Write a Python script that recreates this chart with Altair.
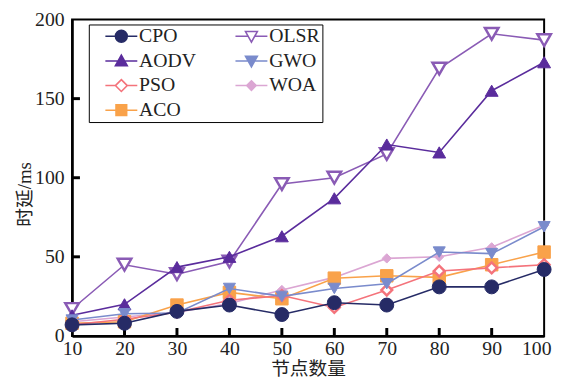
import altair as alt
import pandas as pd

nodes = [10, 20, 30, 40, 50, 60, 70, 80, 90, 100]
series_order = ["CPO", "AODV", "PSO", "ACO", "OLSR", "GWO", "WOA"]
draw_order = ["OLSR", "AODV", "WOA", "ACO", "PSO", "GWO", "CPO"]

values = {
    "CPO":  [7, 8, 15.5, 19.5, 13.5, 21, 19.5, 31, 31, 42],
    "AODV": [13, 20, 43.5, 50, 63, 87, 121, 116, 155, 173],
    "PSO":  [7, 10.5, 15, 22.5, 25.5, 18, 29, 41, 43, 45],
    "ACO":  [8, 9, 19.5, 27.5, 23.5, 36.5, 38, 37, 45, 53],
    "OLSR": [17, 45, 39, 47, 96, 100, 115, 169, 191, 187],
    "GWO":  [10, 14, 14.5, 30, 25, 30, 33, 53, 52, 69],
    "WOA":  [9, 12, 15, 20.5, 29, 37, 49, 50, 56, 70],
}

y_ticks = [50, 100, 150]
x_ticks = [20, 30, 40, 50, 60, 70, 80, 90]
y_labels = [0, 50, 100, 150, 200]

colors = ["#262b66", "#5a2c9c", "#f4737b", "#f9a24a", "#8a5bb5", "#7a8bcc", "#dba6d3"]
fills = ["#262b66", "#5a2c9c", "white", "#f9a24a", "white", "#7a8bcc", "#dba6d3"]
shapes = ["circle", "triangle-up", "diamond", "square", "triangle-down", "triangle-down", "diamond"]
sizes = {"CPO": 200, "OLSR": 190, "AODV": 170, "GWO": 150, "PSO": 120, "WOA": 90, "ACO": 160}
strokes = {"CPO": 1, "OLSR": 2.5, "AODV": 1, "GWO": 1, "PSO": 2.5, "WOA": 1, "ACO": 1}

rows = []
for s in series_order:
    for n, v in zip(nodes, values[s]):
        rows.append({"nodes": n, "delay": v, "series": s})
df = pd.DataFrame(rows)

FONT = "Liberation Serif"
CJK = "Liberation Serif, Noto Sans CJK SC"

xscale = alt.Scale(domain=[10, 100], nice=False)
yscale = alt.Scale(domain=[0, 200], nice=False)

xaxis = alt.Axis(values=nodes, tickSize=0, labelPadding=3, labelFont=FONT, labelFontSize=20,
                 labelColor="#222", labelFlush=False, domainColor="black", domainWidth=2.5,
                 grid=False, title="节点数量", titleFont=CJK, titleFontSize=19,
                 titleFontWeight="normal", titleColor="#222", titleY=33, titleBaseline="middle",
                 labelOffset={"condition": {"test": "datum.value === 100", "value": -8}, "value": 0})
yaxis = alt.Axis(values=y_labels, tickSize=0, labelPadding=8, labelFont=FONT, labelFontSize=20,
                 labelColor="#222", labelFlush=False, domainColor="black", domainWidth=2.5,
                 grid=False, title="时延/ms", titleFont=CJK, titleFontSize=19,
                 titleFontWeight="normal", titleColor="#222", titleX=-48, titleY=177,
                 titleBaseline="middle", titleAlign="center", titleAngle=270)

circ = "M-1,0A1,1,0,1,1,1,0A1,1,0,1,1,-1,0Z"
tri_up = "M0,-1L1,0.8L-1,0.8Z"
tri_dn = "M0,1L1,-0.8L-1,-0.8Z"
diam = "M0,-1L1,0L0,1L-1,0Z"
sq = "M-0.9,-0.9H0.9V0.9H-0.9Z"
leg_paths = [
    circ + "M-2.7,0H-1M1,0H2.7",
    tri_up + "M-2.7,0H-0.55M0.55,0H2.7",
    diam + "M-2.7,0H-1M1,0H2.7",
    sq + "M-2.7,0H-0.9M0.9,0H2.7",
    tri_dn + "M-2.7,0H-0.55M0.55,0H2.7",
    tri_dn + "M-2.7,0H-0.55M0.55,0H2.7",
    "M0,-0.8L0.8,0L0,0.8L-0.8,0Z" + "M-2.7,0H-0.8M0.8,0H2.7",
]

legend = alt.Legend(title=None, orient="none", legendX=17, legendY=5, columns=2,
                    labelFont=FONT, labelFontSize=20, labelColor="#222", symbolSize=144,
                    symbolStrokeWidth=1.6, symbolOpacity=1,
                    labelExpr="datum.label + '\u00a0\u00a0\u00a0\u00a0'",
                    padding=2, strokeColor="black", fillColor="white", rowPadding=5,
                    columnPadding=25, symbolOffset=21, labelOffset=8)

layers = []
for s in draw_order:
    i = series_order.index(s)
    base = alt.Chart(df).transform_filter(alt.datum.series == s)
    line = base.mark_line(color=colors[i], strokeWidth=1.6).encode(
        x=alt.X("nodes:Q", scale=xscale, axis=xaxis),
        y=alt.Y("delay:Q", scale=yscale, axis=yaxis),
    )
    pts = base.mark_point(filled=False, opacity=1, size=sizes[s], strokeWidth=strokes[s],
                          shape=shapes[i], color=colors[i], fill=fills[i]).encode(
        x=alt.X("nodes:Q", scale=xscale, axis=xaxis),
        y=alt.Y("delay:Q", scale=yscale, axis=yaxis),
    )
    layers += [line, pts]

legend_layer = alt.Chart(pd.DataFrame({"series": series_order})).mark_point(
    filled=False, opacity=0, size=144).encode(
    color=alt.Color("series:N", scale=alt.Scale(domain=series_order, range=colors), legend=legend),
    fill=alt.Fill("series:N", scale=alt.Scale(domain=series_order, range=fills), legend=legend),
    shape=alt.Shape("series:N", scale=alt.Scale(domain=series_order, range=leg_paths), legend=legend),
)

ytick_layer = alt.Chart(pd.DataFrame({"delay": y_ticks})).mark_rule(color="black", strokeWidth=3).encode(
    y=alt.Y("delay:Q", scale=yscale, axis=yaxis), x=alt.value(0), x2=alt.value(8))
xtick_layer = alt.Chart(pd.DataFrame({"nodes": x_ticks})).mark_rule(color="black", strokeWidth=3).encode(
    x=alt.X("nodes:Q", scale=xscale, axis=xaxis), y=alt.value(321), y2=alt.value(313))

chart = alt.layer(ytick_layer, xtick_layer, *layers, legend_layer).properties(
    width=479, height=321,
    padding={"left": 65, "top": 9, "right": 9, "bottom": 41},
    autosize=alt.AutoSizeParams(type="none"),
).configure_view(stroke="black", strokeWidth=2)

chart.save("out.html", embed_options={"renderer": "svg", "actions": False})
